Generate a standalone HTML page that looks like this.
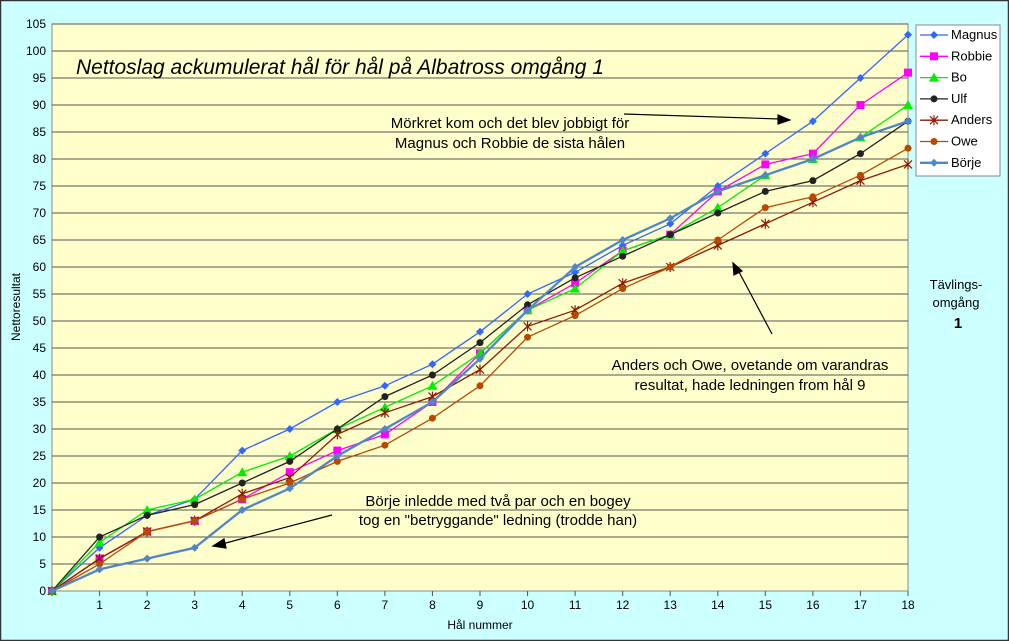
<!DOCTYPE html>
<html><head><meta charset="utf-8"><style>
html,body{margin:0;padding:0;background:#ccffff;}
svg{display:block;font-family:"Liberation Sans",sans-serif;}
</style></head><body>
<svg id="c" width="1009" height="641" xmlns="http://www.w3.org/2000/svg">
<rect x="0.5" y="0.5" width="1008" height="640" fill="#ccffff" stroke="#333" stroke-width="1.5"/>
<rect x="52" y="24" width="856" height="567" fill="#ffffcc" stroke="#888"/>
<g id="grid" stroke="#555" stroke-width="1"></g>
<g id="ylab" font-size="12" text-anchor="end" fill="#000"></g>
<g id="xlab" font-size="12" text-anchor="middle" fill="#000"></g>
<text x="340" y="74" font-size="21" font-style="italic" text-anchor="middle">Nettoslag ackumulerat hål för hål på Albatross omgång 1</text>
<text x="510" y="128" font-size="15" text-anchor="middle">Mörkret kom och det blev jobbigt för</text>
<text x="510" y="148" font-size="15" text-anchor="middle">Magnus och Robbie de sista hålen</text>
<text x="750" y="370" font-size="15" text-anchor="middle">Anders och Owe, ovetande om varandras</text>
<text x="750" y="390" font-size="15" text-anchor="middle">resultat, hade ledningen from hål 9</text>
<text x="498" y="506" font-size="15" text-anchor="middle">Börje inledde med två par och en bogey</text>
<text x="498" y="525" font-size="15" text-anchor="middle">tog en "betryggande" ledning (trodde han)</text>
<g stroke="#000" stroke-width="1.2" fill="#000">
<line x1="624" y1="114" x2="780" y2="119"/><polygon points="790,120 778,115 778,124"/>
<line x1="772" y1="334" x2="738" y2="270"/><polygon points="733,263 734,275 742,271"/>
<line x1="332" y1="515" x2="222" y2="544"/><polygon points="213,546 224,539 226,548"/>
</g>
<text x="20" y="307" font-size="12" text-anchor="middle" transform="rotate(-90 20 307)">Nettoresultat</text>
<text x="480" y="629" font-size="12" text-anchor="middle">Hål nummer</text>
<text x="956" y="289" font-size="13" text-anchor="middle">Tävlings-</text>
<text x="956" y="307" font-size="13" text-anchor="middle">omgång</text>
<text x="958" y="328" font-size="15" font-weight="bold" text-anchor="middle">1</text>
<rect x="916" y="25" width="84" height="151" fill="#fff" stroke="#888"/>
<g id="series"></g>
<g id="legend" font-size="13"></g>
</svg>
<script>
var NS="http://www.w3.org/2000/svg";
function el(t,a,p){var e=document.createElementNS(NS,t);for(var k in a)e.setAttribute(k,a[k]);p.appendChild(e);return e;}
var X=function(i){return 52+i*856/18},Y=function(v){return 591-v*5.4};
var g=document.getElementById('grid'),yl=document.getElementById('ylab'),xl=document.getElementById('xlab');
for(var v=5;v<=105;v+=5)el('line',{x1:52,x2:908,y1:Y(v),y2:Y(v)},g);
for(var v=0;v<=105;v+=5){var t=el('text',{x:46,y:Y(v)+4},yl);t.textContent=v;}
for(var i=0;i<=18;i++){el('line',{x1:X(i),x2:X(i),y1:591,y2:596},g);if(i>0){var t=el('text',{x:X(i),y:609},xl);t.textContent=i;}}
var S=[
["Magnus","#3366ff","d",[0,8,14,17,26,30,35,38,42,48,55,59,64,68,75,81,87,95,103],1],
["Robbie","#ff00ff","s",[0,6,11,13,17,22,26,29,35,44,52,57,63,66,74,79,81,90,96],1],
["Bo","#00ee00","t",[0,9,15,17,22,25,30,34,38,44,52,56,63,66,71,77,80,84,90],1],
["Ulf","#222222","c",[0,10,14,16,20,24,30,36,40,46,53,58,62,66,70,74,76,81,87],1],
["Anders","#8b1a00","x",[0,6,11,13,18,21,29,33,36,41,49,52,57,60,64,68,72,76,79],1],
["Owe","#b84a00","c",[0,5,11,13,17,20,24,27,32,38,47,51,56,60,65,71,73,77,82],1],
["Börje","#4f86c6","d",[0,4,6,8,15,19,25,30,35,43,52,60,65,69,74,77,80,84,87],2]];
var sg=document.getElementById('series'),lg=document.getElementById('legend');
function mk(type,x,y,c,p){
 if(type=='d')el('polygon',{points:[x,y-4,x+4,y,x,y+4,x-4,y].join(' '),fill:c},p);
 else if(type=='s')el('rect',{x:x-4,y:y-4,width:8,height:8,fill:c},p);
 else if(type=='t')el('polygon',{points:[x,y-5,x+5,y+4,x-5,y+4].join(' '),fill:c},p);
 else if(type=='c')el('circle',{cx:x,cy:y,r:3.5,fill:c},p);
 else {el('path',{d:'M'+(x-4)+' '+(y-4)+'L'+(x+4)+' '+(y+4)+'M'+(x-4)+' '+(y+4)+'L'+(x+4)+' '+(y-4)+'M'+x+' '+(y-5)+'L'+x+' '+(y+5),stroke:c,'stroke-width':1.2},p);}
}
S.forEach(function(s,k){
 var pts=s[3].map(function(v,i){return X(i)+','+Y(v)}).join(' ');
 el('polyline',{points:pts,fill:'none',stroke:s[1],'stroke-width':s[4]+0.3},sg);
 s[3].forEach(function(v,i){mk(s[2],X(i),Y(v),s[1],sg)});
 var ly=35+k*21.3;
 el('line',{x1:920,x2:948,y1:ly,y2:ly,stroke:s[1],'stroke-width':s[4]+0.3},lg);
 mk(s[2],934,ly,s[1],lg);
 var t=el('text',{x:951,y:ly+4},lg);t.textContent=s[0];
});
</script>
</body></html>
